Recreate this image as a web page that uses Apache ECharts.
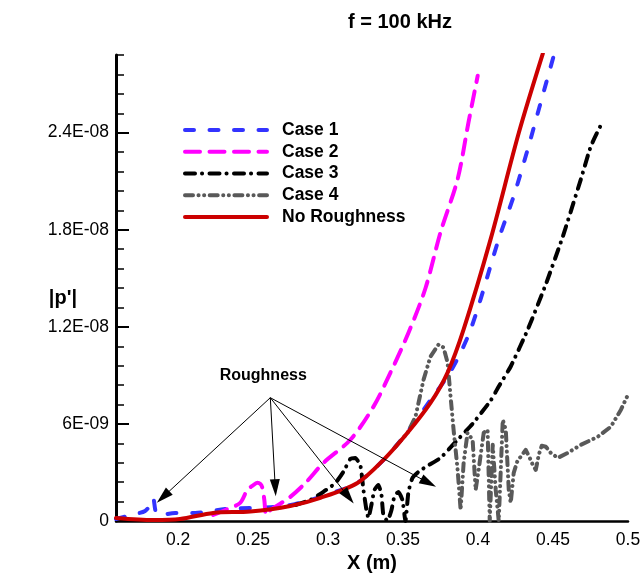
<!DOCTYPE html>
<html><head><meta charset="utf-8">
<script src="https://cdn.jsdelivr.net/npm/echarts@6/dist/echarts.min.js"></script>
<style>html,body{margin:0;padding:0;background:#fff}#c{width:641px;height:573px}</style>
</head><body><div id="c"></div>
<script>
// Tick values / labels
const xTickValues = [0.2, 0.25, 0.3, 0.35, 0.4, 0.45, 0.5];
const xTickLabels = ['0.2', '0.25', '0.3', '0.35', '0.4', '0.45', '0.5'];
const yTickValues = [0, 6e-9, 1.2e-8, 1.8e-8, 2.4e-8];
const yTickLabels = ['0', '6E-09', '1.2E-08', '1.8E-08', '2.4E-08'];
const seriesNames = ['Case 1', 'Case 2', 'Case 3', 'Case 4', 'No Roughness'];

// [X (m), |p'|]
const case1 = [[0.1586,0.12e-9],[0.1713,0.43e-9],[0.1780,0.62e-9],[0.1813,0.99e-9],[0.1833,1.43e-9],[0.1853,0.50e-9],[0.188,0.37e-9],[0.198,0.50e-9],[0.2114,0.50e-9],[0.2314,0.74e-9],[0.2515,0.81e-9],[0.2715,0.93e-9],[0.2882,1.30e-9],[0.3049,1.8e-9],[0.3196,2.35e-9],[0.3383,3.9e-9],[0.355,5.76e-9],[0.3684,7.5e-9],[0.3817,9.24e-9],[0.3951,11.84e-9],[0.4138,17.42e-9],[0.4238,20.08e-9],[0.4332,23.0e-9],[0.4419,25.9e-9],[0.4505,28.76e-9]];
const case2 = [[0.2234,0.37e-9],[0.2314,0.68e-9],[0.2414,1.12e-9],[0.2461,1.92e-9],[0.2495,2.17e-9],[0.2528,2.36e-9],[0.2548,2.29e-9],[0.2562,2.05e-9],[0.2575,1.30e-9],[0.2588,0.37e-9],[0.2615,0.68e-9],[0.2668,0.99e-9],[0.2748,1.49e-9],[0.2849,2.35e-9],[0.2969,3.59e-9],[0.3149,5.02e-9],[0.3303,7.07e-9],[0.3416,9.17e-9],[0.3537,11.65e-9],[0.365,14.4e-9],[0.375,17.85e-9],[0.3864,21.13e-9],[0.3937,24.67e-9],[0.3998,27.52e-9]];
const case3 = [[0.2782,0.99e-9],[0.2882,1.30e-9],[0.2969,1.80e-9],[0.3049,2.35e-9],[0.3102,3.04e-9],[0.3149,3.84e-9],[0.3182,3.90e-9],[0.3216,3.41e-9],[0.3236,1.92e-9],[0.3256,0.68e-9],[0.3269,0.19e-9],[0.3289,0.99e-9],[0.3309,1.92e-9],[0.3336,2.23e-9],[0.3356,1.61e-9],[0.3369,0.37e-9],[0.3396,0],[0.3423,0.68e-9],[0.3443,1.55e-9],[0.3469,1.80e-9],[0.3496,1.30e-9],[0.3516,0],[0.3536,1.80e-9],[0.3563,2.67e-9],[0.3603,3.04e-9],[0.3663,3.41e-9],[0.375,3.90e-9],[0.3864,5.02e-9],[0.3964,6.01e-9],[0.4084,7.44e-9],[0.4138,8.31e-9],[0.4218,9.55e-9],[0.4332,11.84e-9],[0.4452,14.63e-9],[0.4566,17.60e-9],[0.4686,21.13e-9],[0.4753,23.18e-9],[0.4833,24.73e-9]];
const case4 = [[0.345,4.6e-9],[0.353,5.45e-9],[0.3583,6.45e-9],[0.3637,8.74e-9],[0.3683,10.16e-9],[0.3737,10.91e-9],[0.3770,10.72e-9],[0.3797,9.79e-9],[0.3817,7.69e-9],[0.3837,5.64e-9],[0.3864,3.16e-9],[0.3884,0.68e-9],[0.3904,3.59e-9],[0.3930,5.45e-9],[0.3964,5.02e-9],[0.3984,1.92e-9],[0.4004,3.16e-9],[0.4038,5.45e-9],[0.4064,5.64e-9],[0.4078,0],[0.4098,4.71e-9],[0.4118,1.92e-9],[0.4138,0],[0.4165,6.26e-9],[0.4185,5.64e-9],[0.4205,1.92e-9],[0.4218,1.12e-9],[0.4238,2.98e-9],[0.4265,3.78e-9],[0.4285,3.97e-9],[0.4318,4.40e-9],[0.4345,3.90e-9],[0.4365,3.47e-9],[0.4385,3.16e-9],[0.4405,4.09e-9],[0.4425,4.65e-9],[0.4452,4.59e-9],[0.4485,4.21e-9],[0.4532,3.90e-9],[0.4599,4.21e-9],[0.4686,4.71e-9],[0.4799,5.21e-9],[0.4886,5.83e-9],[0.4953,6.88e-9],[0.5,7.81e-9]];
const noRoughness = [[0.1586,0.19e-9],[0.1833,0.06e-9],[0.2013,0.12e-9],[0.2234,0.50e-9],[0.2481,0.59e-9],[0.2748,0.93e-9],[0.2949,1.43e-9],[0.3196,2.35e-9],[0.3370,3.78e-9],[0.3530,5.45e-9],[0.3684,7.31e-9],[0.3797,9.17e-9],[0.3904,11.84e-9],[0.4084,17.42e-9],[0.4272,23.99e-9],[0.4432,28.88e-9]];

// Annotation: "Roughness" label and arrows
const annotText = 'Roughness';
const annotTextPos = [0.2568, 8.99e-9];
const arrowStart = [0.2615, 7.62e-9];
const arrowEnds = [[0.1900, 1.49e-9], [0.2648, 2.05e-9], [0.3136, 1.49e-9], [0.3670, 2.36e-9]];

const FONT = "'Liberation Sans', Arial, sans-serif";
const chart = echarts.init(document.getElementById('c'));

const styles = [
  { color: '#3333ff', dash: [9, 15.5] },
  { color: '#ff00ff', dash: [15, 9.5] },
  { color: '#000000', dash: [10, 7, 0.1, 7.4] },
  { color: '#595959', dash: [8, 5.5, 0.1, 5.5, 0.1, 5.5] },
  { color: '#cc0000', dash: null }
];

function lineSeries(idx, data, smooth) {
  const s = styles[idx];
  return {
    name: seriesNames[idx], type: 'line', data, symbol: 'none', showSymbol: false, smooth: smooth,
    animation: false, silent: true,
    lineStyle: { color: s.color, width: 4, type: s.dash || 'solid', cap: 'round', join: 'round' },
    itemStyle: { color: s.color }
  };
}

// Legend drawn as graphic (line sample + label)
const legendGraphics = [];
seriesNames.forEach((n, i) => {
  const y = 130 + i * 21.75;
  const s = styles[i];
  legendGraphics.push({
    type: 'line', silent: true,
    shape: { x1: 185, y1: y, x2: 267, y2: y },
    style: { stroke: s.color, lineWidth: 4, lineDash: s.dash || null, lineCap: 'round' }
  });
  legendGraphics.push({
    type: 'text', silent: true, x: 282, y: y,
    style: { text: n, fill: '#000', fontFamily: FONT, fontSize: 17.5, fontWeight: 'bold', verticalAlign: 'middle', align: 'left' }
  });
});

const option = {
  backgroundColor: '#fff',
  animation: false,
  title: {
    text: 'f = 100 kHz', left: 343, top: 7,
    textStyle: { fontFamily: FONT, fontSize: 20, fontWeight: 'bold', color: '#000' }
  },
  graphic: legendGraphics,
  grid: { left: 116, right: 13, top: 55, bottom: 52, containLabel: false, outerBoundsMode: 'none' },
  xAxis: {
    type: 'value', min: 0.1586, max: 0.5,
    name: 'X (m)', nameLocation: 'middle', nameGap: 29,
    nameTextStyle: { fontFamily: FONT, fontSize: 20, fontWeight: 'bold', color: '#000' },
    axisLine: { show: true, onZero: false, lineStyle: { color: '#000', width: 2.5 } },
    axisTick: { show: false },
    splitLine: { show: false },
    axisLabel: {
      customValues: xTickValues, margin: 10,
      formatter: (v) => { const i = xTickValues.findIndex(t => Math.abs(t - v) < 1e-6); return i >= 0 ? xTickLabels[i] : ''; },
      fontFamily: FONT, fontSize: 17.5, color: '#000'
    }
  },
  yAxis: [{
    type: 'value', min: 0, max: 2.88e-8, interval: 1.2e-9,
    name: "|p'|", nameLocation: 'middle', nameRotate: 0, nameGap: 39,
    nameTextStyle: { fontFamily: FONT, fontSize: 20, fontWeight: 'bold', color: '#000', verticalAlign: 'top', align: 'right' },
    axisLine: { show: true, lineStyle: { color: '#000', width: 3 } },
    axisTick: { show: true, inside: true, length: 8, lineStyle: { color: '#000', width: 1.5 } },
    splitLine: { show: false },
    axisLabel: { show: false }
  }, {
    type: 'value', min: 0, max: 2.88e-8, position: 'left',
    axisLine: { show: false },
    axisTick: { show: true, inside: true, length: 13, customValues: yTickValues, lineStyle: { color: '#000', width: 2 } },
    splitLine: { show: false },
    axisLabel: {
      customValues: yTickValues, margin: 7,
      formatter: (v) => { const i = yTickValues.findIndex(t => Math.abs(t - v) < 1e-12); return i >= 0 ? yTickLabels[i] : ''; },
      fontFamily: FONT, fontSize: 17.5, color: '#000'
    }
  }],
  series: [
    lineSeries(0, case1, 0.3),
    lineSeries(1, case2, 0.3),
    lineSeries(2, case3, 0.15),
    lineSeries(3, case4, 0),
    lineSeries(4, noRoughness, 0.3),
    {
      name: 'annot', type: 'line', data: [], silent: true, animation: false,
      markLine: {
        silent: true, animation: false,
        symbol: ['none', 'path://M5,0L10,20L0,20Z'], symbolSize: [10, 17],
        label: { show: false },
        lineStyle: { color: '#000', width: 1, type: 'solid' },
        itemStyle: { color: '#000' },
        emphasis: { disabled: true },
        data: arrowEnds.map(e => [{ coord: arrowStart }, { coord: e }])
      },
      markPoint: {
        silent: true, animation: false, symbol: 'rect', symbolSize: 1,
        itemStyle: { color: 'rgba(0,0,0,0)' },
        label: { show: true, position: 'inside', formatter: annotText, fontFamily: FONT, fontSize: 16, fontWeight: 'bold', color: '#000' },
        data: [{ coord: annotTextPos }]
      }
    }
  ]
};
chart.setOption(option);
</script></body></html>
